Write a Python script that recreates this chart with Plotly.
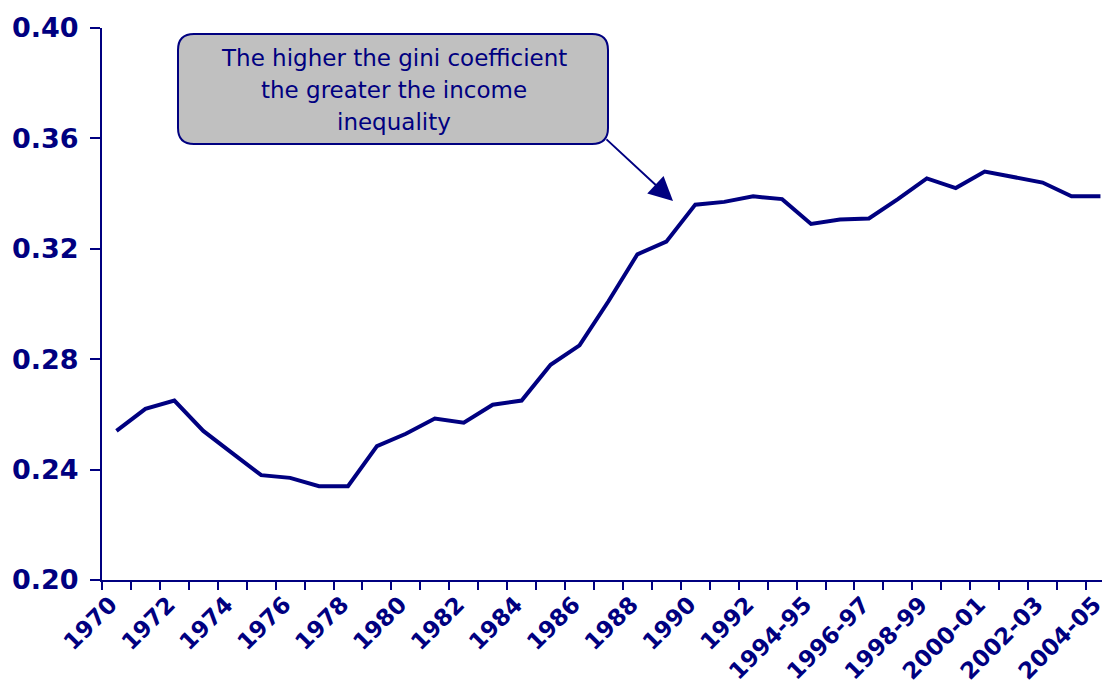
import plotly.graph_objects as go

years = [str(y) for y in range(1970, 1994)] + [
    "1994-95", "1995-96", "1996-97", "1997-98", "1998-99", "1999-00",
    "2000-01", "2001-02", "2002-03", "2003-04", "2004-05"]
gini = [0.254, 0.262, 0.265, 0.254, 0.246, 0.238, 0.237, 0.234, 0.234, 0.2485,
        0.253, 0.2585, 0.257, 0.2635, 0.265, 0.278, 0.285, 0.301, 0.318, 0.3226,
        0.336, 0.337, 0.339, 0.338, 0.329, 0.3306, 0.331, 0.338, 0.3455, 0.342,
        0.348, 0.346, 0.344, 0.339, 0.339]
tick_labels = [y if i % 2 == 0 else "" for i, y in enumerate(years)]

NAVY = "#000080"
W, H = 1110, 686
# page body adds an 8px offset, so margins are set 8px smaller
L, T, B, R = 94, 20, 114, 8


def px_to_paper(x, y):
    # x, y given in screen pixels
    x, y = x - 8, y - 8
    return (x - L) / (W - L - R), (H - B - y) / (H - T - B)


def rounded_box(x0, y0, x1, y1, r):
    ax0, ay0 = px_to_paper(x0, y0)
    ax1, ay1 = px_to_paper(x1, y1)
    rx = r / (W - L - R)
    ry = r / (H - T - B)
    return (f"M {ax0 + rx},{ay0} L {ax1 - rx},{ay0} Q {ax1},{ay0} {ax1},{ay0 - ry} "
            f"L {ax1},{ay1 + ry} Q {ax1},{ay1} {ax1 - rx},{ay1} "
            f"L {ax0 + rx},{ay1} Q {ax0},{ay1} {ax0},{ay1 + ry} "
            f"L {ax0},{ay0 - ry} Q {ax0},{ay0} {ax0 + rx},{ay0} Z")


fig = go.Figure(go.Scatter(x=years, y=gini, mode="lines",
                           line=dict(color=NAVY, width=4)))

fig.add_shape(type="path", xref="paper", yref="paper",
              path=rounded_box(178, 34, 608, 144, 16),
              fillcolor="#C0C0C0", line=dict(color=NAVY, width=2))

note_lines = ["The higher the gini coefficient", "the greater the income", "inequality"]
for line_y, line in zip([58, 90, 122], note_lines):
    tx, ty = px_to_paper(394, line_y)
    fig.add_annotation(xref="paper", yref="paper", x=tx, y=ty, showarrow=False,
                       text=line, xanchor="center", yanchor="middle",
                       font=dict(family="DejaVu Sans", size=23, color=NAVY))

hx, hy = px_to_paper(673, 201)
fig.add_annotation(xref="paper", yref="paper", x=hx, y=hy, text="",
                   showarrow=True, ax=-68, ay=-63, arrowhead=2, arrowsize=2.4,
                   arrowwidth=2, arrowcolor=NAVY, standoff=0)

fig.update_layout(
    width=W, height=H,
    margin=dict(l=L, r=R, t=T, b=B),
    plot_bgcolor="white", paper_bgcolor="white",
    showlegend=False,
    xaxis=dict(type="category", range=[-0.5, 34.33], automargin=False,
               tickmode="array", tickvals=years, ticktext=tick_labels,
               tickson="boundaries", ticks="outside", ticklen=8, tickwidth=2,
               tickcolor=NAVY, showline=True, linecolor=NAVY, linewidth=2,
               showgrid=False, tickangle=-45, ticklabelshift=-6,
               ticklabelstandoff=0,
               tickfont=dict(family="DejaVu Sans", size=23, color=NAVY, weight="bold")),
    yaxis=dict(range=[0.20, 0.40], dtick=0.04, tickformat=".2f", automargin=False,
               ticks="outside", ticklen=10, tickwidth=2, tickcolor=NAVY,
               showline=True, linecolor=NAVY, linewidth=2, showgrid=False,
               zeroline=False, ticklabelstandoff=6,
               tickfont=dict(family="DejaVu Sans", size=27, color=NAVY, weight="bold")),
)

fig.write_html("out.html")
